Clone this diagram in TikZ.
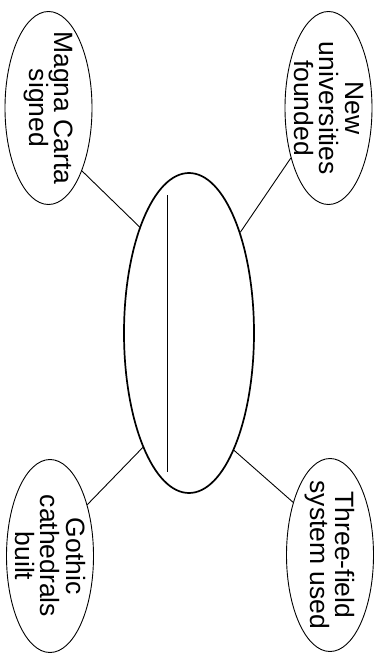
\documentclass[tikz,border=0pt]{standalone}
\usepackage{fontspec}
\setmainfont{Liberation Sans}
\usepackage{tikz}
\usetikzlibrary{shapes.geometric}
\tikzset{
  event/.style={draw=black,ellipse,line width=0.9pt,minimum width=87pt,minimum height=193pt,inner sep=0pt},
  eventtext/.style={rotate=-90,align=center,inner sep=0pt,font=\fontsize{26.5}{25.5}\selectfont},
  hub/.style={draw=black,ellipse,line width=1.7pt,minimum width=130pt,minimum height=320pt,inner sep=0pt},
  link/.style={line width=0.9pt,draw=black},
  blankline/.style={line width=1pt,draw=black}
}
\begin{document}
\begin{tikzpicture}[x=1pt,y=-1pt]
  \useasboundingbox (0,0) rectangle (381,654);
  \node[hub] (hub) at (189,333) {};
  \draw[blankline] (167,195) -- (167,472);
  \node[event] (magna) at (48.5,108) {};
  \node[eventtext] at (magna) {Magna Carta\\signed};
  \node[event] (univ) at (328.5,108) {};
  \node[eventtext] at (univ) {New\\universities\\founded};
  \node[event] (gothic) at (50,556) {};
  \node[eventtext] at (gothic) {Gothic\\cathedrals\\built};
  \node[event] (field) at (330,555) {};
  \node[eventtext] at (field) {Three-field\\system used};
  \draw[link] (hub.115.9) -- (magna.298.3);
  \draw[link] (hub.63.7) -- (univ.233.5);
  \draw[link] (hub.248) -- (gothic.54.9);
  \draw[link] (hub.291.5) -- (field.125.6);
\end{tikzpicture}
\end{document}
